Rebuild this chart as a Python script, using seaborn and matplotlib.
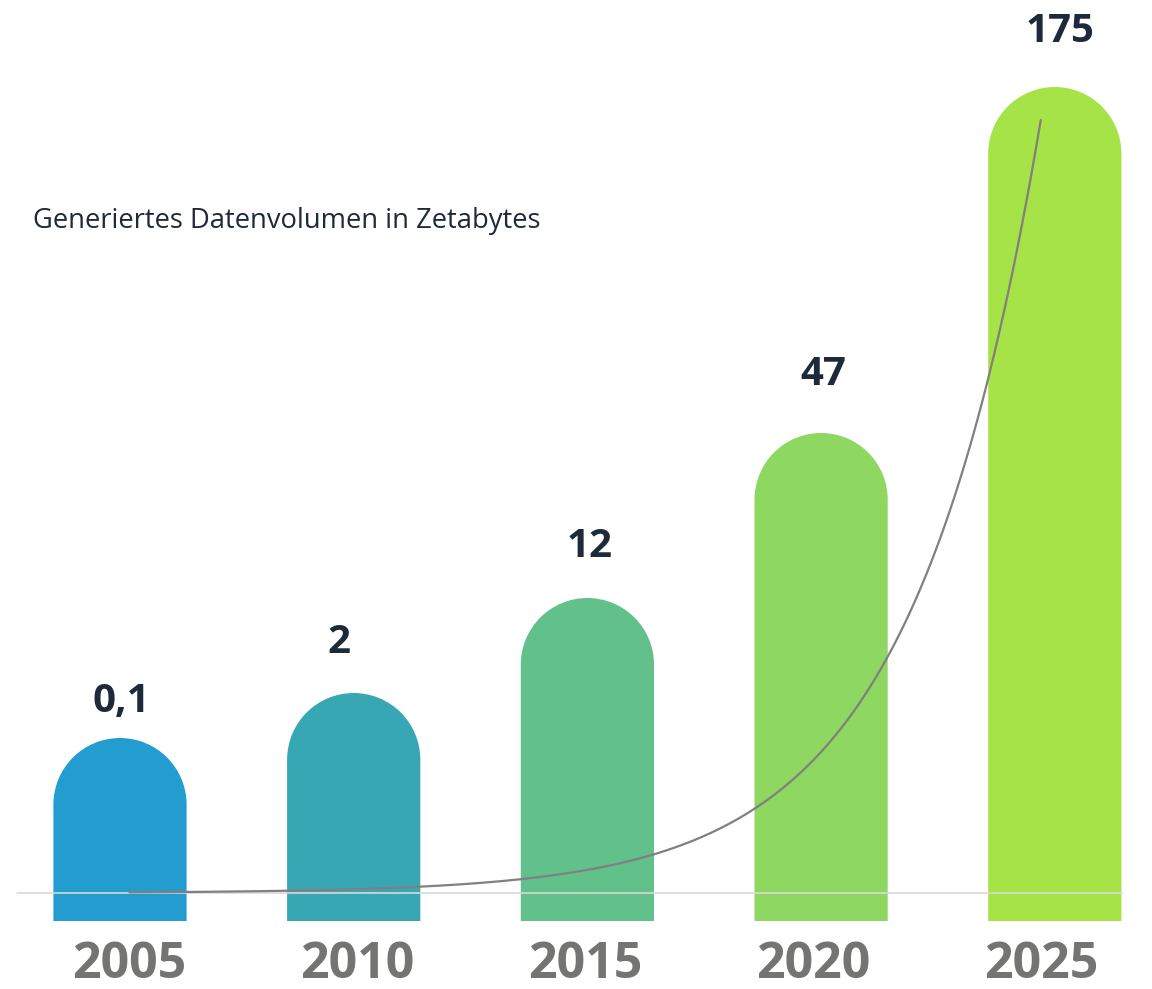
import numpy as np
import pandas as pd
import matplotlib
matplotlib.use('Agg')
import matplotlib.pyplot as plt
import seaborn as sns
from matplotlib.path import Path
from matplotlib.patches import PathPatch

sns.set_theme(style='white')
plt.rcParams['font.family'] = ['Open Sans', 'DejaVu Sans']

# Data
years = ['2005', '2010', '2015', '2020', '2025']
values = [0.1, 2, 12, 47, 175]                 # Zettabytes
value_labels = ['0,1', '2', '12', '47', '175']
bar_heights = [183, 228, 323, 488, 834]        # drawn bar heights (infographic, not to scale)
colors = ['#239dd0', '#38a7b4', '#62c18a', '#8ed760', '#a6e347']

# Layout (pixels)
step = 233.7
label_gap = [26, 40, 41, 48, 45]
label_dx = [1, -15, 2, 2, 5]
year_x0, year_step = 129, 228

fig = plt.figure(figsize=(11.52, 9.89), dpi=100)
ax = fig.add_axes([0, 0, 1, 1])

df = pd.DataFrame({'year': years, 'h': bar_heights})
sns.barplot(data=df, x='year', y='h', hue='year', palette=colors, width=0.57,
            legend=False, ax=ax, saturation=1, linewidth=0)
ax.set_xlim(-120 / step, (1152 - 120) / step)
ax.set_ylim(-68, 921)

# Give each seaborn bar a semicircular top (1 y-unit = 1 px)
arc = Path.arc(0, 180)
for p in list(ax.patches):
    x0, w, h = p.get_x(), p.get_width(), p.get_height()
    r = w * step / 2
    cx = x0 + w / 2
    av = arc.vertices * [w / 2, r] + [cx, h - r]
    verts = np.vstack([[x0 + w, 0], av, [x0, 0], [x0 + w, 0]])
    codes = [Path.MOVETO, Path.LINETO] + list(arc.codes[1:]) + [Path.LINETO, Path.CLOSEPOLY]
    ax.add_patch(PathPatch(Path(verts, codes), facecolor=p.get_facecolor(), lw=0))
    p.set_visible(False)

# Value labels and year labels
for i, lab in enumerate(value_labels):
    ax.text(i + label_dx[i] / step, bar_heights[i] + label_gap[i], lab, ha='center',
            va='baseline', fontsize=29, fontweight='bold', color='#1e2a3a')
    ax.text((year_x0 - 120 + i * year_step) / step, -57, years[i], ha='center',
            va='baseline', fontsize=36, fontweight='bold', color='#747572')

# Baseline
base_y = 28
ax.plot([(17 - 120) / step, (1122 - 120) / step], [base_y, base_y],
        color='#d9d9d9', lw=1.2, zorder=3)

# Exponential trendline fitted to the values
xi = np.arange(len(values))
b, a = np.polyfit(xi, np.log(values), 1)
xs = np.linspace(0.04, 3.94, 200)
ys = np.exp(a + b * xs)
ax2 = ax.twinx()
ax2.set_position([0, 0, 1, 1])
s = (801 - base_y) / ys[-1]
ax2.set_ylim((-68 - base_y) / s, (921 - base_y) / s)
ax2.plot(xs, ys, color='#808080', lw=1.6)
ax2.set_xlim(ax.get_xlim())

for a_ in (ax, ax2):
    a_.axis('off')

fig.text(33 / 1152, 1 - 228 / 989, 'Generiertes Datenvolumen in Zetabytes',
         fontsize=19.7, color='#1e2a3a', ha='left', va='baseline')

fig.savefig('out.png', dpi=100, facecolor='white')
